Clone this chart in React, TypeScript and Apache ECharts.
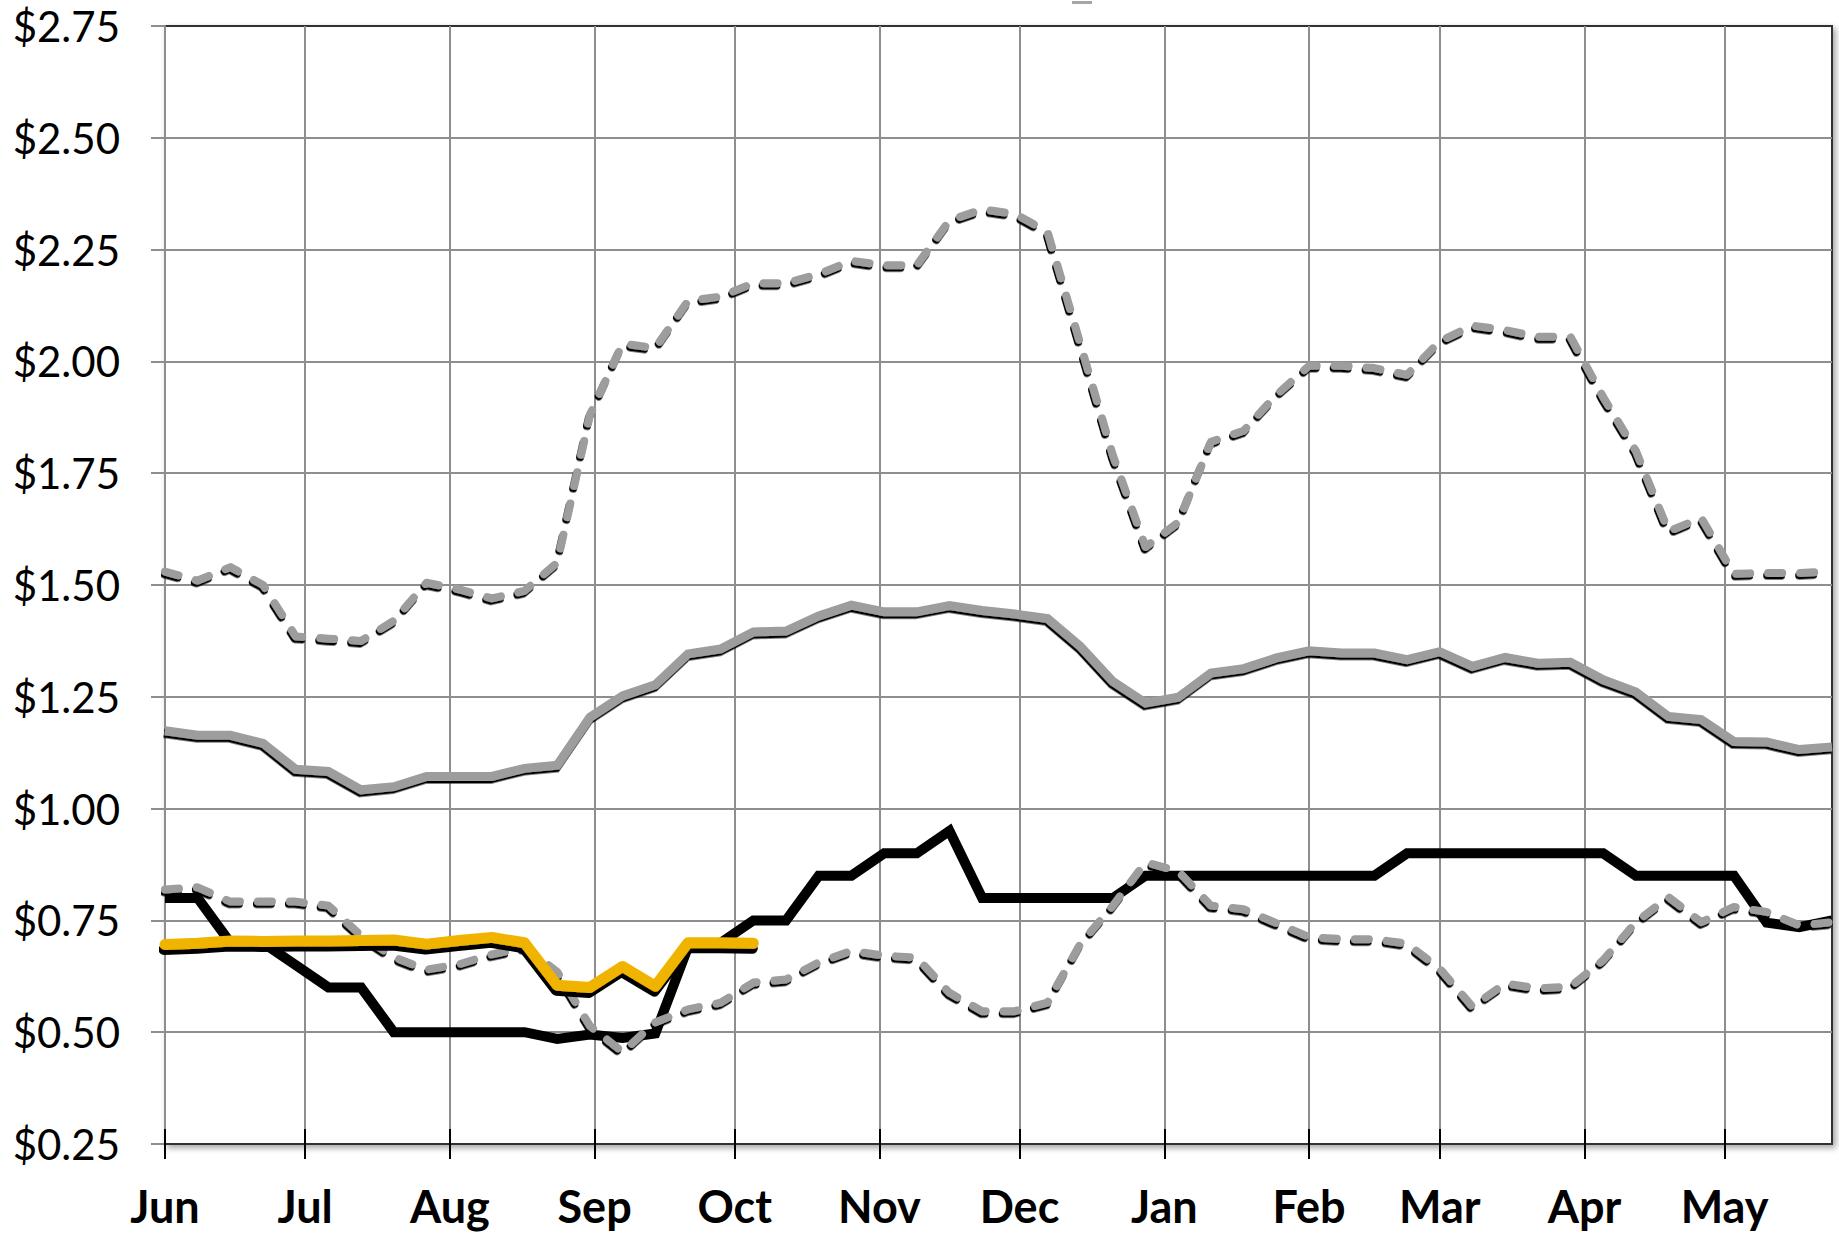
import React, { useEffect, useRef } from 'react';
import * as echarts from 'echarts';

// Month tick labels and the day offset (from Jun 1) at which each month starts
const monthNames = ['Jun', 'Jul', 'Aug', 'Sep', 'Oct', 'Nov', 'Dec', 'Jan', 'Feb', 'Mar', 'Apr', 'May'];
const monthStartDays = [0, 30, 61, 92, 122, 153, 183, 214, 245, 273, 304, 334];
const lastDay = 357;
// weekly observations (day offsets from Jun 1)
const weekDays = Array.from({ length: 52 }, (_, k) => k * 7);

const maxPrice = [
  1.53, 1.51, 1.54, 1.5, 1.385, 1.38, 1.375, 1.42, 1.505, 1.49, 1.47, 1.487, 1.55,
  1.88, 2.04, 2.03, 2.135, 2.145, 2.175, 2.175, 2.195, 2.225, 2.215, 2.215, 2.315, 2.34,
  2.33, 2.29, 2.04, 1.79, 1.585, 1.64, 1.82, 1.845, 1.925, 1.99, 1.99, 1.985, 1.97,
  2.045, 2.08, 2.07, 2.055, 2.055, 1.92, 1.8, 1.62, 1.65, 1.525, 1.527, 1.527, 1.53,
];
const avgPrice = [
  1.174, 1.164, 1.164, 1.146, 1.088, 1.083, 1.042, 1.049, 1.072, 1.072, 1.072, 1.09, 1.097,
  1.204, 1.252, 1.277, 1.346, 1.357, 1.395, 1.397, 1.431, 1.455, 1.44, 1.44, 1.454, 1.443,
  1.435, 1.425, 1.363, 1.284, 1.236, 1.249, 1.303, 1.313, 1.337, 1.353, 1.348, 1.348, 1.333,
  1.351, 1.318, 1.338, 1.325, 1.327, 1.288, 1.261, 1.206, 1.199, 1.15, 1.149, 1.132, 1.138,
];
const minPrice = [
  0.819, 0.824, 0.792, 0.792, 0.792, 0.783, 0.716, 0.668, 0.64, 0.652, 0.674, 0.69, 0.635,
  0.514, 0.456, 0.522, 0.551, 0.566, 0.611, 0.618, 0.656, 0.682, 0.671, 0.667, 0.588, 0.547,
  0.547, 0.566, 0.697, 0.783, 0.88, 0.86, 0.783, 0.775, 0.744, 0.713, 0.708, 0.708, 0.698,
  0.642, 0.557, 0.609, 0.598, 0.602, 0.661, 0.746, 0.802, 0.746, 0.78, 0.769, 0.739, 0.746,
];
const lastYearPrice = [
  0.8, 0.8, 0.7, 0.7, 0.65, 0.6, 0.6, 0.5, 0.5, 0.5, 0.5, 0.5, 0.485,
  0.495, 0.487, 0.497, 0.69, 0.7, 0.75, 0.75, 0.85, 0.85, 0.9, 0.9, 0.95, 0.8,
  0.8, 0.8, 0.8, 0.8, 0.85, 0.85, 0.85, 0.85, 0.85, 0.85, 0.85, 0.85, 0.9,
  0.9, 0.9, 0.9, 0.9, 0.9, 0.9, 0.85, 0.85, 0.85, 0.85, 0.745, 0.735, 0.75,
];
const currentPrice = [
  0.696, 0.699, 0.704, 0.703, 0.704, 0.704, 0.705, 0.706, 0.697, 0.705, 0.712, 0.7, 0.605,
  0.6, 0.647, 0.603, 0.7, 0.7, 0.699,
];

const yMin = 0.25;
const yMax = 2.75;
const yStep = 0.25;

const pairs = (values: number[]) => values.map((v, i) => [weekDays[i], v]);

const FONT = 'Lato, "Open Sans", sans-serif';
const GRID_GRAY = '#8e8e8e';
const LINE_GRAY = '#9d9d9d';

const grayShadow = { shadowColor: '#000', shadowBlur: 0, shadowOffsetX: -1, shadowOffsetY: 2.5 };

export default function App() {
  const ref = useRef<HTMLDivElement>(null);

  useEffect(() => {
    if (!ref.current) return;
    const chart = echarts.init(ref.current, undefined, { renderer: 'svg' });
    const dashed = {
      color: LINE_GRAY,
      width: 8,
      type: [14, 18] as number[],
      cap: 'round' as const,
      join: 'round' as const,
      ...grayShadow,
    };
    chart.setOption({
      animation: false,
      backgroundColor: '#ffffff',
      grid: {
        left: 165,
        right: 7,
        top: 26,
        bottom: 89,
        show: true,
        backgroundColor: '#ffffff',
        borderColor: '#333333',
        borderWidth: 2,
        shadowColor: 'rgba(0,0,0,0.35)',
        shadowBlur: 6,
        shadowOffsetX: 3,
        shadowOffsetY: 3,
      },
      xAxis: [
        {
          type: 'value',
          min: 0,
          max: lastDay,
          position: 'bottom',
          axisLine: {
            show: true,
            onZero: false,
            lineStyle: { color: '#000', width: 3, shadowColor: 'rgba(0,0,0,0.3)', shadowBlur: 4, shadowOffsetY: 3 },
          },
          axisTick: { show: true, inside: false, length: 15, customValues: monthStartDays, lineStyle: { color: '#000', width: 2 } },
          axisLabel: {
            show: true,
            customValues: monthStartDays,
            formatter: (v: number) => {
              const i = monthStartDays.indexOf(Math.round(v));
              return i >= 0 ? monthNames[i] : '';
            },
            margin: 39,
            fontSize: 45,
            fontWeight: 'bold',
            color: '#000',
            fontFamily: FONT,
          },
          splitLine: { show: true, showMinLine: false, lineStyle: { color: GRID_GRAY, width: 2 } },
        },
        {
          type: 'value',
          min: 0,
          max: lastDay,
          position: 'bottom',
          axisLine: { show: false, onZero: false },
          axisTick: { show: true, inside: true, length: 15, customValues: monthStartDays, lineStyle: { color: '#000', width: 2 } },
          axisLabel: { show: false },
          splitLine: { show: false },
        },
      ],
      yAxis: {
        type: 'value',
        min: yMin,
        max: yMax,
        interval: yStep,
        axisLine: { show: true, lineStyle: { color: GRID_GRAY, width: 2 } },
        axisTick: { show: true, inside: false, length: 14, lineStyle: { color: GRID_GRAY, width: 2 } },
        axisLabel: {
          formatter: (v: number) => '$' + v.toFixed(2),
          fontSize: 42,
          margin: 45,
          color: '#000',
          fontFamily: FONT,
        },
        splitLine: { show: true, showMaxLine: false, showMinLine: false, lineStyle: { color: GRID_GRAY, width: 2 } },
      },
      graphic: [
        { type: 'rect', left: 1072, top: 1, shape: { width: 20, height: 3 }, style: { fill: '#a6a6a6' }, silent: true },
      ],
      series: [
        {
          name: 'Last year',
          type: 'line',
          data: pairs(lastYearPrice),
          showSymbol: false,
          lineStyle: { color: '#000', width: 10, join: 'miter', cap: 'butt' },
          itemStyle: { color: '#000' },
        },
        {
          name: 'Average',
          type: 'line',
          data: pairs(avgPrice),
          showSymbol: false,
          lineStyle: { color: LINE_GRAY, width: 9, join: 'miter', ...grayShadow },
          itemStyle: { color: LINE_GRAY },
        },
        {
          name: 'Maximum',
          type: 'line',
          data: pairs(maxPrice),
          showSymbol: false,
          lineStyle: dashed,
          itemStyle: { color: LINE_GRAY },
        },
        {
          name: 'Minimum',
          type: 'line',
          data: pairs(minPrice),
          showSymbol: false,
          lineStyle: dashed,
          itemStyle: { color: LINE_GRAY },
        },
        {
          name: 'Current',
          type: 'line',
          data: pairs(currentPrice),
          showSymbol: false,
          lineStyle: { color: '#F0B400', width: 11, cap: 'round', join: 'round', shadowColor: '#000', shadowBlur: 0, shadowOffsetX: -1, shadowOffsetY: 5 },
          itemStyle: { color: '#F0B400' },
        },
      ],
    });
    return () => chart.dispose();
  }, []);

  return <div ref={ref} style={{ position: 'fixed', left: 0, top: 0, width: 1839, height: 1233 }} />;
}
